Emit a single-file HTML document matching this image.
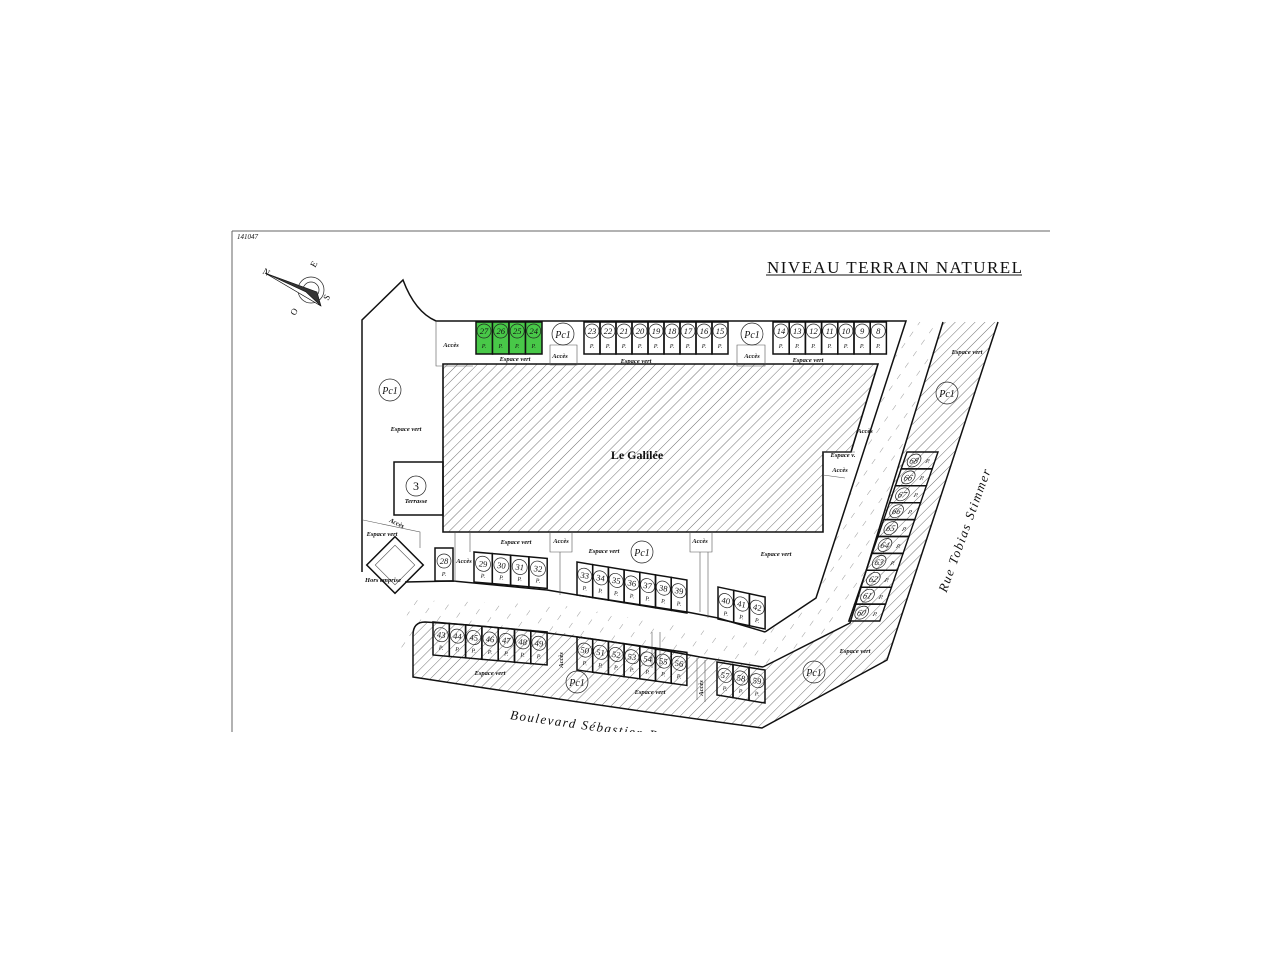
<!DOCTYPE html>
<html><head><meta charset="utf-8"><style>
html,body{margin:0;padding:0;background:#fff;width:1280px;height:960px;overflow:hidden}
svg{display:block}
text{font-family:"Liberation Serif",serif;fill:#111}
.n{font-size:8.5px;font-style:italic;text-anchor:middle}
.pc{font-size:10px;font-style:italic;text-anchor:middle}
.p{font-size:6px;font-style:italic;text-anchor:middle}
.l{font-size:6.5px;font-style:italic;font-weight:bold;text-anchor:middle}
.c{fill:none;stroke:#222;stroke-width:0.7}
.s{fill:none;stroke:#111;stroke-width:1.5}
.g{fill:#48c848;stroke:#111;stroke-width:1.5}
.t{fill:none;stroke:#555;stroke-width:0.6}
</style></head><body>
<svg width="1280" height="960" viewBox="0 0 1280 960">
<defs>
<pattern id="h" width="7" height="7" patternUnits="userSpaceOnUse" patternTransform="rotate(45)"><line x1="0" y1="0" x2="0" y2="7" stroke="#333" stroke-width="0.7"/></pattern>
<pattern id="h2" width="14" height="14" patternUnits="userSpaceOnUse" patternTransform="rotate(35)"><line x1="0" y1="0" x2="0" y2="6" stroke="#555" stroke-width="0.6"/></pattern>
<clipPath id="cp"><rect x="0" y="0" width="1280" height="732"/></clipPath>
</defs>
<g clip-path="url(#cp)">
<line x1="232" y1="231" x2="1050" y2="231" stroke="#666" stroke-width="1"/>
<line x1="232" y1="231" x2="232" y2="732" stroke="#666" stroke-width="1"/>
<text x="237" y="239" style="font-size:7px;font-style:italic">141047</text>
<text x="767" y="273" style="font-size:17px" textLength="255" lengthAdjust="spacing">NIVEAU TERRAIN NATUREL</text>
<line x1="766" y1="275" x2="1022" y2="275" stroke="#111" stroke-width="1"/>

<circle cx="311" cy="290" r="13" class="c"/><circle cx="311" cy="290" r="8" class="c"/>
<polygon points="265,273 321,306 317,292" fill="#333" stroke="#111" stroke-width="0.6"/>
<polygon points="265,273 321,306 306,292" fill="#fff" stroke="#111" stroke-width="0.6"/>
<text x="262" y="273" style="font-size:9px" transform="rotate(30 262 273)">N</text>
<text x="315" y="268" style="font-size:9px" transform="rotate(-60 315 268)">E</text>
<text x="328" y="301" style="font-size:9px" transform="rotate(-60 328 301)">S</text>
<text x="295" y="316" style="font-size:9px" transform="rotate(-60 295 316)">O</text>

<polygon points="943,322 998,322 887,660 762,728 600,706 413,677 413,635 425,622 560,632 700,657 763,667 850,623" fill="url(#h)"/>
<polygon points="907,322 943,322 850,623 763,667 762,632 813,607" fill="url(#h2)"/>
<polygon points="400,650 410,600 560,605 700,630 762,640 762,667 700,657 560,632 425,622 413,635" fill="url(#h2)"/>
<polygon points="443,364 878,364 851,452 823,452 823,532 443,532" fill="url(#h)" stroke="#111" stroke-width="1.6"/>
<text x="637" y="459" style="font-size:12px;font-weight:bold;text-anchor:middle">Le Galilée</text>

<path class="s" d="M362,572 L362,320 L403,280 Q415,312 436,321 L906,321 L816,598 L765,632"/>
<path class="s" d="M765,632 L718,618 L687,612 L577,595 L547,590 L453,581 L405,582"/>
<path class="s" d="M943,322 L850,623 L763,667"/>
<path class="s" d="M998,322 L887,660 L762,728 Q600,706 413,677 L413,635 Q413,622 425,622 Q560,630 700,657 L763,667"/>
<rect x="394" y="462" width="49" height="53" class="s" fill="#fff"/>
<circle cx="416" cy="486" r="10" class="c"/><text x="416" y="490" style="font-size:12px;text-anchor:middle">3</text>
<text x="416" y="503" class="l">Terrasse</text>
<g transform="rotate(45 395 565)"><rect x="375" y="545" width="40" height="40" class="s" fill="#fff"/><rect x="381" y="551" width="28" height="28" class="t"/></g>
<path class="t" d="M363,520 L420,532 L420,548 M436,321 L436,366 L473,366 M550,345 L577,345 L577,365 L550,365 Z M737,345 L765,345 L765,366 L737,366 Z M455,532 L455,582 M470,532 L470,552 M550,532 L550,552 L572,552 L572,532 M560,552 L560,595 M690,532 L690,552 L712,552 L712,532 M700,552 L700,612 M708,552 L708,618 M652,632 L652,668 M660,632 L660,668 M697,658 L697,700 M705,660 L705,702 M823,452 L855,452 M823,475 L845,478"/>

<circle cx="390" cy="390" r="11" class="c"/><text x="390" y="394" class="pc">Pc1</text>
<text x="406" y="431" class="l">Espace vert</text>
<text x="451" y="347" class="l">Accès</text>
<text x="515" y="361" class="l">Espace vert</text>
<circle cx="563" cy="334" r="11" class="c"/><text x="563" y="338" class="pc">Pc1</text>
<text x="560" y="358" class="l">Accès</text>
<text x="636" y="363" class="l">Espace vert</text>
<circle cx="752" cy="334" r="11" class="c"/><text x="752" y="338" class="pc">Pc1</text>
<text x="752" y="358" class="l">Accès</text>
<text x="808" y="362" class="l">Espace vert</text>
<text x="967" y="354" class="l">Espace vert</text>
<circle cx="947" cy="393" r="11" class="c"/><text x="947" y="397" class="pc">Pc1</text>
<text x="865" y="433" class="l">Accès</text>
<text x="843" y="457" class="l">Espace v.</text>
<text x="840" y="472" class="l">Accès</text>
<text x="516" y="544" class="l">Espace vert</text>
<text x="561" y="543" class="l">Accès</text>
<text x="700" y="543" class="l">Accès</text>
<text x="604" y="553" class="l">Espace vert</text>
<circle cx="642" cy="552" r="11" class="c"/><text x="642" y="556" class="pc">Pc1</text>
<text x="776" y="556" class="l">Espace vert</text>
<text x="464" y="563" class="l">Accès</text>
<text x="382" y="536" class="l">Espace vert</text>
<text x="396" y="525" class="l" transform="rotate(25 396 525)">Accès</text>
<text x="383" y="582" class="l">Hors emprise</text>
<text x="490" y="675" class="l">Espace vert</text>
<circle cx="577" cy="682" r="11" class="c"/><text x="577" y="686" class="pc">Pc1</text>
<text x="650" y="694" class="l">Espace vert</text>
<text x="563" y="660" class="l" transform="rotate(-90 563 660)">Accès</text>
<text x="703" y="688" class="l" transform="rotate(-90 703 688)">Accès</text>
<circle cx="814" cy="672" r="11" class="c"/><text x="814" y="676" class="pc">Pc1</text>
<text x="855" y="653" class="l">Espace vert</text>
<text x="965" y="534" style="font-size:13px;font-style:italic;text-anchor:middle;letter-spacing:1.5px" transform="rotate(-70 965 530)">Rue Tobias Stimmer</text>
<text x="510" y="719" style="font-size:13px;font-style:italic;letter-spacing:1.5px" transform="rotate(8 510 717)">Boulevard Sébastien B</text>

<rect x="476" y="322" width="16.5" height="32" class="g"/><circle cx="484" cy="331" r="7" class="c"/><text x="484" y="334" class="n">27</text><text x="484" y="348" class="p">P.</text>
<rect x="492.5" y="322" width="16.5" height="32" class="g"/><circle cx="500.7" cy="331" r="7" class="c"/><text x="500.7" y="334" class="n">26</text><text x="500.7" y="348" class="p">P.</text>
<rect x="509" y="322" width="16.5" height="32" class="g"/><circle cx="517.2" cy="331" r="7" class="c"/><text x="517.2" y="334" class="n">25</text><text x="517.2" y="348" class="p">P.</text>
<rect x="525.5" y="322" width="16.5" height="32" class="g"/><circle cx="533.7" cy="331" r="7" class="c"/><text x="533.7" y="334" class="n">24</text><text x="533.7" y="348" class="p">P.</text>

<g transform="translate(584,322)">
<rect x="0" width="16" height="32" class="s"/><circle cx="8" cy="9" r="7" class="c"/><text x="8" y="12" class="n">23</text><text x="8" y="26" class="p">P.</text>
<rect x="16" width="16" height="32" class="s"/><circle cx="24" cy="9" r="7" class="c"/><text x="24" y="12" class="n">22</text><text x="24" y="26" class="p">P.</text>
<rect x="32" width="16" height="32" class="s"/><circle cx="40" cy="9" r="7" class="c"/><text x="40" y="12" class="n">21</text><text x="40" y="26" class="p">P.</text>
<rect x="48" width="16" height="32" class="s"/><circle cx="56" cy="9" r="7" class="c"/><text x="56" y="12" class="n">20</text><text x="56" y="26" class="p">P.</text>
<rect x="64" width="16" height="32" class="s"/><circle cx="72" cy="9" r="7" class="c"/><text x="72" y="12" class="n">19</text><text x="72" y="26" class="p">P.</text>
<rect x="80" width="16" height="32" class="s"/><circle cx="88" cy="9" r="7" class="c"/><text x="88" y="12" class="n">18</text><text x="88" y="26" class="p">P.</text>
<rect x="96" width="16" height="32" class="s"/><circle cx="104" cy="9" r="7" class="c"/><text x="104" y="12" class="n">17</text><text x="104" y="26" class="p">P.</text>
<rect x="112" width="16" height="32" class="s"/><circle cx="120" cy="9" r="7" class="c"/><text x="120" y="12" class="n">16</text><text x="120" y="26" class="p">P.</text>
<rect x="128" width="16" height="32" class="s"/><circle cx="136" cy="9" r="7" class="c"/><text x="136" y="12" class="n">15</text><text x="136" y="26" class="p">P.</text>
</g>
<g transform="translate(773,322)">
<rect x="0" width="16.2" height="32" class="s"/><circle cx="8" cy="9" r="7" class="c"/><text x="8" y="12" class="n">14</text><text x="8" y="26" class="p">P.</text>
<rect x="16.2" width="16.2" height="32" class="s"/><circle cx="24.3" cy="9" r="7" class="c"/><text x="24.3" y="12" class="n">13</text><text x="24.3" y="26" class="p">P.</text>
<rect x="32.4" width="16.2" height="32" class="s"/><circle cx="40.5" cy="9" r="7" class="c"/><text x="40.5" y="12" class="n">12</text><text x="40.5" y="26" class="p">P.</text>
<rect x="48.6" width="16.2" height="32" class="s"/><circle cx="56.7" cy="9" r="7" class="c"/><text x="56.7" y="12" class="n">11</text><text x="56.7" y="26" class="p">P.</text>
<rect x="64.8" width="16.2" height="32" class="s"/><circle cx="72.9" cy="9" r="7" class="c"/><text x="72.9" y="12" class="n">10</text><text x="72.9" y="26" class="p">P.</text>
<rect x="81" width="16.2" height="32" class="s"/><circle cx="89.1" cy="9" r="7" class="c"/><text x="89.1" y="12" class="n">9</text><text x="89.1" y="26" class="p">P.</text>
<rect x="97.2" width="16.2" height="32" class="s"/><circle cx="105.3" cy="9" r="7" class="c"/><text x="105.3" y="12" class="n">8</text><text x="105.3" y="26" class="p">P.</text>
</g>

<rect x="435" y="548" width="18" height="33" class="s" fill="#fff"/><circle cx="444" cy="561" r="7" class="c"/><text x="444" y="564" class="n">28</text><text x="444" y="576" class="p">P.</text>
<g transform="translate(474,552) skewY(5)">
<rect x="0" width="18.3" height="30" class="s"/><circle cx="9" cy="11" r="7.5" class="c"/><text x="9" y="14" class="n">29</text><text x="9" y="25" class="p">P.</text>
<rect x="18.3" width="18.3" height="30" class="s"/><circle cx="27.4" cy="11" r="7.5" class="c"/><text x="27.4" y="14" class="n">30</text><text x="27.4" y="25" class="p">P.</text>
<rect x="36.6" width="18.3" height="30" class="s"/><circle cx="45.7" cy="11" r="7.5" class="c"/><text x="45.7" y="14" class="n">31</text><text x="45.7" y="25" class="p">P.</text>
<rect x="54.9" width="18.3" height="30" class="s"/><circle cx="64" cy="11" r="7.5" class="c"/><text x="64" y="14" class="n">32</text><text x="64" y="25" class="p">P.</text>
</g>
<g transform="translate(577,562) skewY(9.3)">
<rect x="0" width="15.7" height="33" class="s"/><circle cx="7.8" cy="12" r="7" class="c"/><text x="7.8" y="15" class="n">33</text><text x="7.8" y="27" class="p">P.</text>
<rect x="15.7" width="15.7" height="33" class="s"/><circle cx="23.5" cy="12" r="7" class="c"/><text x="23.5" y="15" class="n">34</text><text x="23.5" y="27" class="p">P.</text>
<rect x="31.4" width="15.7" height="33" class="s"/><circle cx="39.2" cy="12" r="7" class="c"/><text x="39.2" y="15" class="n">35</text><text x="39.2" y="27" class="p">P.</text>
<rect x="47.1" width="15.7" height="33" class="s"/><circle cx="54.9" cy="12" r="7" class="c"/><text x="54.9" y="15" class="n">36</text><text x="54.9" y="27" class="p">P.</text>
<rect x="62.8" width="15.7" height="33" class="s"/><circle cx="70.6" cy="12" r="7" class="c"/><text x="70.6" y="15" class="n">37</text><text x="70.6" y="27" class="p">P.</text>
<rect x="78.5" width="15.7" height="33" class="s"/><circle cx="86.3" cy="12" r="7" class="c"/><text x="86.3" y="15" class="n">38</text><text x="86.3" y="27" class="p">P.</text>
<rect x="94.2" width="15.7" height="33" class="s"/><circle cx="102" cy="12" r="7" class="c"/><text x="102" y="15" class="n">39</text><text x="102" y="27" class="p">P.</text>
</g>
<g transform="translate(718,587) skewY(12)">
<rect x="0" width="15.7" height="32" class="s"/><circle cx="7.8" cy="12" r="7" class="c"/><text x="7.8" y="15" class="n">40</text><text x="7.8" y="27" class="p">P.</text>
<rect x="15.7" width="15.7" height="32" class="s"/><circle cx="23.5" cy="12" r="7" class="c"/><text x="23.5" y="15" class="n">41</text><text x="23.5" y="27" class="p">P.</text>
<rect x="31.4" width="15.7" height="32" class="s"/><circle cx="39.2" cy="12" r="7" class="c"/><text x="39.2" y="15" class="n">42</text><text x="39.2" y="27" class="p">P.</text>
</g>
<g transform="translate(433,622) skewY(5)">
<rect x="0" width="16.3" height="33" class="s"/><circle cx="8.1" cy="12" r="7" class="c"/><text x="8.1" y="15" class="n">43</text><text x="8.1" y="27" class="p">P.</text>
<rect x="16.3" width="16.3" height="33" class="s"/><circle cx="24.4" cy="12" r="7" class="c"/><text x="24.4" y="15" class="n">44</text><text x="24.4" y="27" class="p">P.</text>
<rect x="32.6" width="16.3" height="33" class="s"/><circle cx="40.7" cy="12" r="7" class="c"/><text x="40.7" y="15" class="n">45</text><text x="40.7" y="27" class="p">P.</text>
<rect x="48.9" width="16.3" height="33" class="s"/><circle cx="57" cy="12" r="7" class="c"/><text x="57" y="15" class="n">46</text><text x="57" y="27" class="p">P.</text>
<rect x="65.2" width="16.3" height="33" class="s"/><circle cx="73.3" cy="12" r="7" class="c"/><text x="73.3" y="15" class="n">47</text><text x="73.3" y="27" class="p">P.</text>
<rect x="81.5" width="16.3" height="33" class="s"/><circle cx="89.6" cy="12" r="7" class="c"/><text x="89.6" y="15" class="n">48</text><text x="89.6" y="27" class="p">P.</text>
<rect x="97.8" width="16.3" height="33" class="s"/><circle cx="105.9" cy="12" r="7" class="c"/><text x="105.9" y="15" class="n">49</text><text x="105.9" y="27" class="p">P.</text>
</g>
<g transform="translate(577,637) skewY(8)">
<rect x="0" width="15.7" height="33" class="s"/><circle cx="7.8" cy="12" r="7" class="c"/><text x="7.8" y="15" class="n">50</text><text x="7.8" y="27" class="p">P.</text>
<rect x="15.7" width="15.7" height="33" class="s"/><circle cx="23.5" cy="12" r="7" class="c"/><text x="23.5" y="15" class="n">51</text><text x="23.5" y="27" class="p">P.</text>
<rect x="31.4" width="15.7" height="33" class="s"/><circle cx="39.2" cy="12" r="7" class="c"/><text x="39.2" y="15" class="n">52</text><text x="39.2" y="27" class="p">P.</text>
<rect x="47.1" width="15.7" height="33" class="s"/><circle cx="54.9" cy="12" r="7" class="c"/><text x="54.9" y="15" class="n">53</text><text x="54.9" y="27" class="p">P.</text>
<rect x="62.8" width="15.7" height="33" class="s"/><circle cx="70.6" cy="12" r="7" class="c"/><text x="70.6" y="15" class="n">54</text><text x="70.6" y="27" class="p">P.</text>
<rect x="78.5" width="15.7" height="33" class="s"/><circle cx="86.3" cy="12" r="7" class="c"/><text x="86.3" y="15" class="n">55</text><text x="86.3" y="27" class="p">P.</text>
<rect x="94.2" width="15.7" height="33" class="s"/><circle cx="102" cy="12" r="7" class="c"/><text x="102" y="15" class="n">56</text><text x="102" y="27" class="p">P.</text>
</g>
<g transform="translate(717,662) skewY(9.5)">
<rect x="0" width="16" height="33" class="s"/><circle cx="8" cy="12" r="7" class="c"/><text x="8" y="15" class="n">57</text><text x="8" y="27" class="p">P.</text>
<rect x="16" width="16" height="33" class="s"/><circle cx="24" cy="12" r="7" class="c"/><text x="24" y="15" class="n">58</text><text x="24" y="27" class="p">P.</text>
<rect x="32" width="16" height="33" class="s"/><circle cx="40" cy="12" r="7" class="c"/><text x="40" y="15" class="n">59</text><text x="40" y="27" class="p">P.</text>
</g>
<g transform="translate(907,452) skewX(-19)">
<rect x="0" y="0" width="31" height="16.9" class="s" fill="#fff"/><circle cx="10" cy="8.5" r="6.5" class="c"/><text x="10" y="11.5" class="n">68</text><text x="24" y="11" class="p">P.</text>
<rect x="0" y="16.9" width="31" height="16.9" class="s" fill="#fff"/><circle cx="10" cy="25.4" r="6.5" class="c"/><text x="10" y="28.4" class="n">66</text><text x="24" y="28" class="p">P.</text>
<rect x="0" y="33.8" width="31" height="16.9" class="s" fill="#fff"/><circle cx="10" cy="42.3" r="6.5" class="c"/><text x="10" y="45.3" class="n">67</text><text x="24" y="45" class="p">P.</text>
<rect x="0" y="50.7" width="31" height="16.9" class="s" fill="#fff"/><circle cx="10" cy="59.2" r="6.5" class="c"/><text x="10" y="62.2" class="n">66</text><text x="24" y="62" class="p">P.</text>
<rect x="0" y="67.6" width="31" height="16.9" class="s" fill="#fff"/><circle cx="10" cy="76.1" r="6.5" class="c"/><text x="10" y="79.1" class="n">65</text><text x="24" y="79" class="p">P.</text>
<rect x="0" y="84.5" width="31" height="16.9" class="s" fill="#fff"/><circle cx="10" cy="93" r="6.5" class="c"/><text x="10" y="96" class="n">64</text><text x="24" y="96" class="p">P.</text>
<rect x="0" y="101.4" width="31" height="16.9" class="s" fill="#fff"/><circle cx="10" cy="109.9" r="6.5" class="c"/><text x="10" y="112.9" class="n">63</text><text x="24" y="113" class="p">P.</text>
<rect x="0" y="118.3" width="31" height="16.9" class="s" fill="#fff"/><circle cx="10" cy="126.8" r="6.5" class="c"/><text x="10" y="129.8" class="n">62</text><text x="24" y="130" class="p">P.</text>
<rect x="0" y="135.2" width="31" height="16.9" class="s" fill="#fff"/><circle cx="10" cy="143.7" r="6.5" class="c"/><text x="10" y="146.7" class="n">61</text><text x="24" y="147" class="p">P.</text>
<rect x="0" y="152.1" width="31" height="16.9" class="s" fill="#fff"/><circle cx="10" cy="160.6" r="6.5" class="c"/><text x="10" y="163.6" class="n">60</text><text x="24" y="164" class="p">P.</text>
</g>
</g>
</svg>
</body></html>
